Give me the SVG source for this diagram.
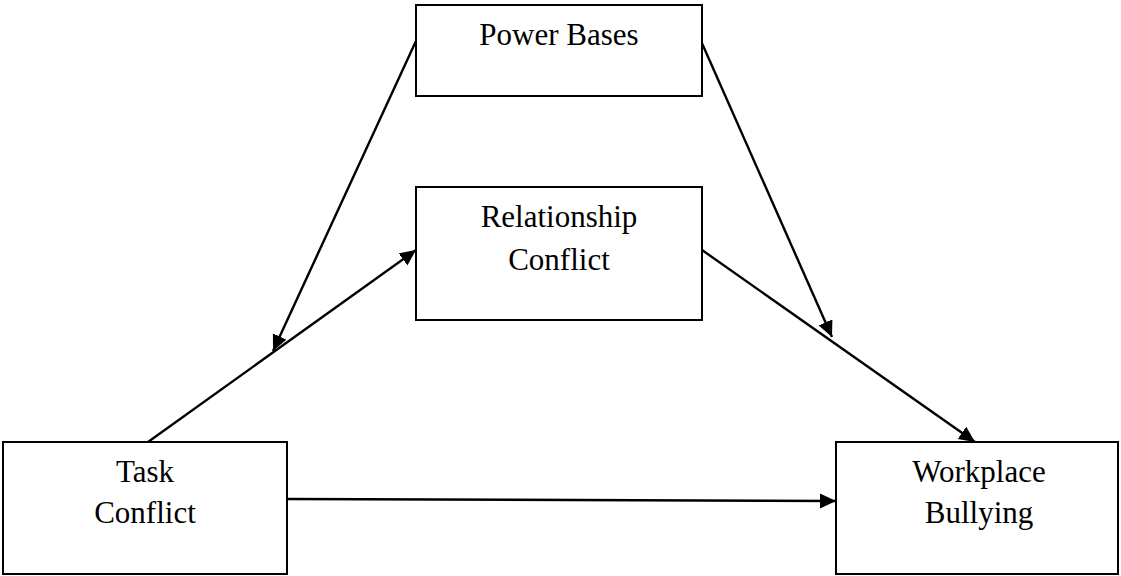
<svg xmlns="http://www.w3.org/2000/svg" width="1121" height="576" viewBox="0 0 1121 576">
<style>
.box{fill:#fff;stroke:#000;stroke-width:2}
.lbl{font-family:"Liberation Serif","Times New Roman",serif;font-size:31px;fill:#000;text-anchor:middle}
.edge{stroke:#000;stroke-width:2.4;fill:none;marker-end:url(#ah)}
</style>
<defs>
<marker id="ah" markerUnits="userSpaceOnUse" markerWidth="18" markerHeight="16" refX="16" refY="7.5" orient="auto">
<path d="M0,0 L16,7.5 L0,15 Z" fill="#000"/>
</marker>
</defs>
<rect width="1121" height="576" fill="#fff"/>
<g id="connectors">
<line class="edge" x1="148" y1="442" x2="416" y2="250"/>
<line class="edge" x1="416" y1="41" x2="273" y2="351"/>
<line class="edge" x1="701" y1="41" x2="832" y2="337"/>
<line class="edge" x1="702" y1="250" x2="975" y2="442"/>
<line class="edge" x1="287" y1="499" x2="836" y2="501"/>
</g>
<g id="power-bases">
<rect class="box" x="416" y="5" width="286" height="91"/>
<text class="lbl" x="559" y="45">Power Bases</text>
</g>
<g id="relationship-conflict">
<rect class="box" x="416" y="187" width="286" height="133"/>
<text class="lbl" x="559" y="227">Relationship</text>
<text class="lbl" x="559" y="270">Conflict</text>
</g>
<g id="task-conflict">
<rect class="box" x="3" y="442" width="284" height="132"/>
<text class="lbl" x="145" y="482">Task</text>
<text class="lbl" x="145" y="523">Conflict</text>
</g>
<g id="workplace-bullying">
<rect class="box" x="836" y="442" width="282" height="132"/>
<text class="lbl" x="979" y="482">Workplace</text>
<text class="lbl" x="979" y="523">Bullying</text>
</g>
</svg>
